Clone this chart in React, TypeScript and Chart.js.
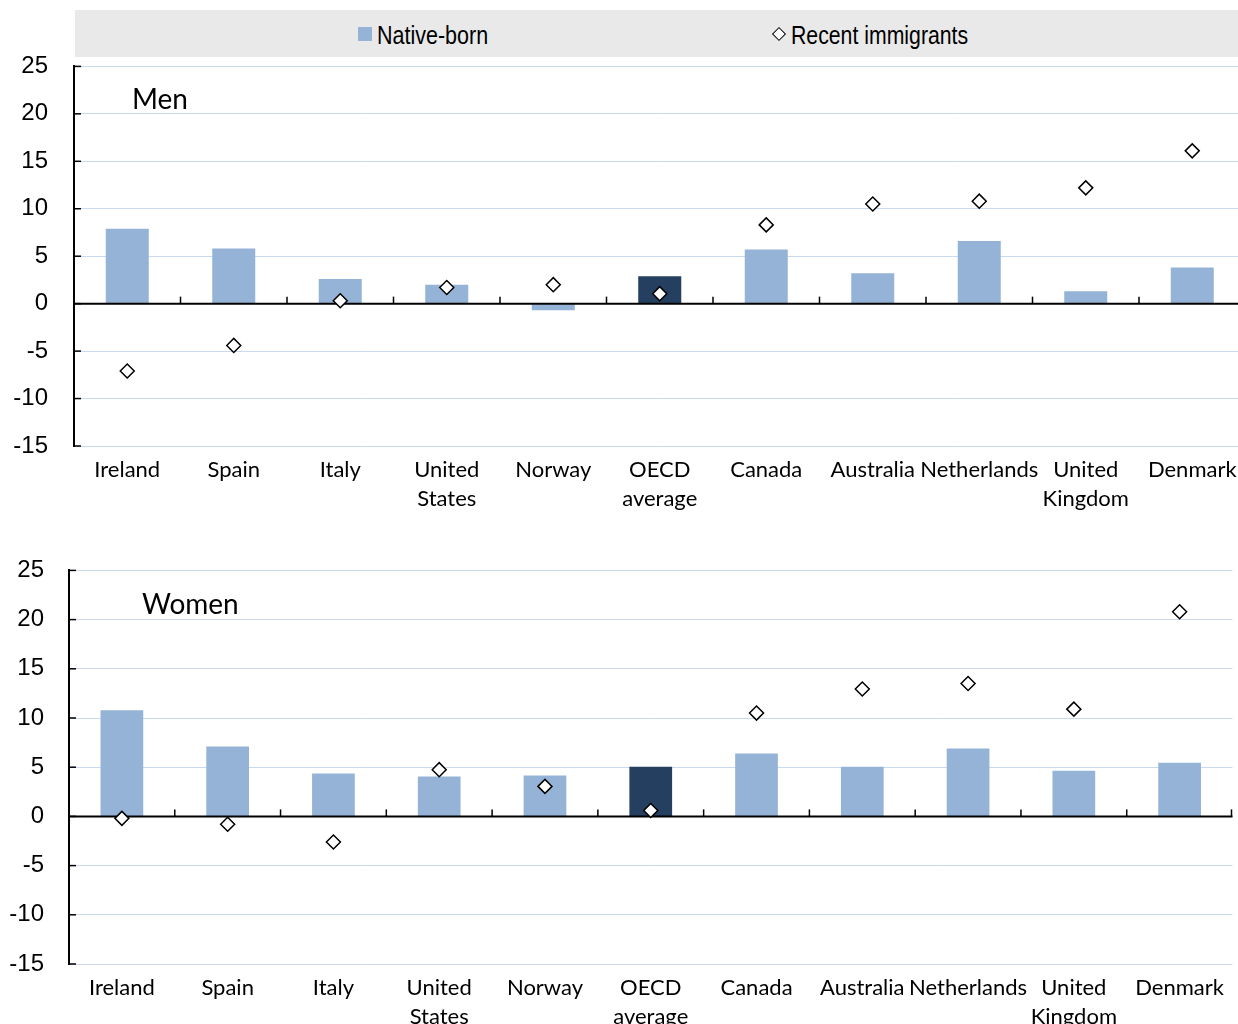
import React, { useEffect, useRef } from "react";
import { Chart, registerables } from "chart.js";

Chart.register(...registerables);

const categories: string[][] = [
  ["Ireland"], ["Spain"], ["Italy"], ["United", "States"], ["Norway"],
  ["OECD", "average"], ["Canada"], ["Australia"], ["Netherlands"],
  ["United", "Kingdom"], ["Denmark"],
];

const menNative = [7.9, 5.8, 2.6, 2.0, -0.7, 2.9, 5.7, 3.2, 6.6, 1.3, 3.8];
const menRecent = [-7.1, -4.4, 0.3, 1.7, 2.0, 1.05, 8.3, 10.5, 10.8, 12.2, 16.1];
const womenNative = [10.8, 7.1, 4.35, 4.05, 4.15, 5.05, 6.4, 5.05, 6.9, 4.65, 5.45];
const womenRecent = [-0.2, -0.8, -2.6, 4.75, 3.05, 0.6, 10.5, 12.95, 13.5, 10.9, 20.8];

const yMin = -15;
const yMax = 25;
const yStep = 5;

const NATIVE = "#95b3d7";
const OECD = "#253f60";
const GRID = "#c9daf0";
const NARROW = '"Liberation Sans Narrow", "Arial Narrow", sans-serif';
const LABEL = 'Lato, "Noto Sans", sans-serif';

const decorPlugin = {
  id: "decor",
  beforeDatasetDraw(chart: any, args: any) {
    if (args.index !== 1) return;
    const { ctx, chartArea } = chart;
    const x = chart.scales.x;
    const y = chart.scales.y;
    const y0 = y.getPixelForValue(0);
    ctx.save();
    ctx.strokeStyle = "#000";
    ctx.lineWidth = 2;
    ctx.beginPath();
    ctx.moveTo(chartArea.left, y0);
    ctx.lineTo(chartArea.right, y0);
    ctx.stroke();
    const n = chart.data.labels.length;
    ctx.lineWidth = 1.5;
    for (let i = 1; i <= n; i++) {
      const bx = i < n
        ? (x.getPixelForValue(i - 1) + x.getPixelForValue(i)) / 2
        : chartArea.right - 1;
      ctx.beginPath();
      ctx.moveTo(bx, y0);
      ctx.lineTo(bx, y0 - 7);
      ctx.stroke();
    }
    for (let v = yMin; v <= yMax; v += yStep) {
      const py = y.getPixelForValue(v);
      ctx.beginPath();
      ctx.moveTo(chartArea.left, py);
      ctx.lineTo(chartArea.left + 7, py);
      ctx.stroke();
    }
    ctx.restore();
  },
  afterDraw(chart: any, _args: any, opts: any) {
    const { ctx, chartArea } = chart;
    ctx.save();
    ctx.fillStyle = "#000";
    ctx.font = `28px ${LABEL}`;
    ctx.textBaseline = "middle";
    ctx.textAlign = "left";
    ctx.fillText(opts.title, chartArea.left + opts.titleDx, chartArea.top + opts.titleDy);
    ctx.restore();
  },
};

function Panel(props: {
  native: number[];
  recent: number[];
  title: string;
  top: number;
  width: number;
  height: number;
  axisWidth: number;
  xHeight: number;
  tickPad: number;
  titleDx: number;
  titleDy: number;
}) {
  const ref = useRef<HTMLCanvasElement>(null);
  useEffect(() => {
    const colors = categories.map((c) => (c[0] === "OECD" ? OECD : NATIVE));
    const chart = new Chart(ref.current!, {
      type: "bar",
      data: {
        labels: categories as any,
        datasets: [
          {
            type: "bar",
            label: "Native-born",
            data: props.native,
            backgroundColor: colors,
            barPercentage: 0.8,
            categoryPercentage: 0.505,
            order: 2,
          },
          {
            type: "line",
            label: "Recent immigrants",
            data: props.recent,
            showLine: false,
            pointStyle: "rectRot",
            pointRadius: 7,
            pointBackgroundColor: "#fff",
            pointBorderColor: "#000",
            pointBorderWidth: 1.5,
            order: 1,
          } as any,
        ],
      },
      options: {
        responsive: false,
        animation: false,
        devicePixelRatio: 1,
        layout: { padding: { top: 9, right: 0, left: 0, bottom: 0 } },
        plugins: {
          legend: { display: false },
          tooltip: { enabled: false },
          decor: { title: props.title, titleDx: props.titleDx, titleDy: props.titleDy },
        } as any,
        scales: {
          x: {
            grid: { display: false },
            border: { display: false },
            ticks: {
              autoSkip: false,
              maxRotation: 0,
              minRotation: 0,
              padding: 1,
              color: "#000",
              font: { family: LABEL, size: 22, lineHeight: 1.32 },
            },
            afterFit: (s: any) => {
              s.height = props.xHeight;
            },
          },
          y: {
            min: yMin,
            max: yMax,
            ticks: {
              stepSize: yStep,
              padding: props.tickPad,
              color: "#000",
              font: { family: NARROW, size: 24 },
            },
            grid: { color: GRID, lineWidth: 1, drawTicks: false },
            border: { display: true, color: "#000", width: 2 },
            afterFit: (s: any) => {
              s.width = props.axisWidth;
            },
          },
        },
      },
      plugins: [decorPlugin],
    });
    return () => chart.destroy();
  }, []);
  return (
    <canvas
      ref={ref}
      width={props.width}
      height={props.height}
      style={{ position: "absolute", left: 0, top: props.top, width: props.width, height: props.height }}
    />
  );
}

export default function App() {
  return (
    <div style={{ position: "absolute", left: 0, top: 0, width: 1238, height: 1024, background: "#fff", overflow: "hidden" }}>
      <div
        style={{
          position: "absolute",
          left: 75,
          top: 10,
          width: 1163,
          height: 47,
          background: "#e9e9e9",
          fontFamily: NARROW,
          fontSize: 25,
          color: "#000",
        }}
      >
        <div style={{ position: "absolute", left: 283, top: 17, width: 14, height: 14, background: NATIVE }} />
        <div style={{ position: "absolute", left: 302, top: 10, lineHeight: "30px", transform: "scaleX(0.86)", transformOrigin: "left center", whiteSpace: "nowrap" }}>Native-born</div>
        <div
          style={{
            position: "absolute",
            left: 699,
            top: 19,
            width: 8,
            height: 8,
            background: "#fff",
            border: "1.5px solid #000",
            transform: "rotate(45deg)",
          }}
        />
        <div style={{ position: "absolute", left: 716, top: 10, lineHeight: "30px", transform: "scaleX(0.85)", transformOrigin: "left center", whiteSpace: "nowrap" }}>Recent immigrants</div>
      </div>
      <Panel
        native={menNative}
        recent={menRecent}
        title="Men"
        top={26}
        width={1254}
        height={490}
        axisWidth={74}
        xHeight={70}
        tickPad={26}
        titleDx={58}
        titleDy={34}
      />
      <Panel
        native={womenNative}
        recent={womenRecent}
        title="Women"
        top={531}
        width={1241}
        height={493}
        axisWidth={69}
        xHeight={60}
        tickPad={25}
        titleDx={73}
        titleDy={35}
      />
    </div>
  );
}
